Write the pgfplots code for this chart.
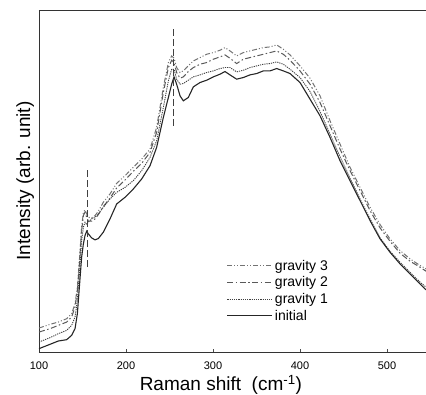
\documentclass[border=0pt]{standalone}
\usepackage{pgfplots}
\pgfplotsset{compat=1.18}
\usepackage{fontspec}
\setmainfont{Liberation Sans}
\begin{document}
\begin{tikzpicture}
\useasboundingbox (-39pt,-43pt) rectangle (387pt,352pt);
\begin{axis}[
  at={(0pt,0pt)}, anchor=south west,
  scale only axis, width=387pt, height=342pt,
  xmin=100, xmax=544.8, ymin=0, ymax=1028,
  axis x line=box, axis y line=left,
  axis line style={-, black!80, line width=0.8pt},
  xtick={100,200,300,400,500}, ytick=\empty,
  xtick pos=bottom, tick align=inside, major tick length=3pt,
  tick style={black!70},
  /pgf/number format/assume math mode=true,
  xticklabel style={font=\fontsize{11}{13}\selectfont, yshift=-6pt},
  xlabel={Raman shift\ \ (cm\textsuperscript{-1})},
  ylabel={Intensity (arb. unit)},
  xlabel style={font=\fontsize{19}{22}\selectfont, at={(axis description cs:0.47,-0.112)}, anchor=base},
  ylabel style={font=\fontsize{19}{22}\selectfont, at={(axis description cs:-0.012,0.5)}, anchor=south, inner sep=0pt},
  legend style={draw=none, fill=none, at={(0.485,0.275)}, anchor=north west,
    font=\fontsize{14}{16}\selectfont, row sep=1pt, inner sep=0pt},
  legend cell align=left,
  legend image code/.code={\draw[#1] (0pt,0pt) -- (40pt,0pt); \path (0pt,0pt) -- (45pt,0pt);},
]
% gravity 3
\addplot[black!55, line width=1pt, dash pattern=on 5pt off 2pt on 1pt off 2pt on 1pt off 2pt] coordinates {
(100.0,72) (112.6,83) (122.2,90) (131.8,100) (137.5,115) (141.4,145) (144.1,195) (146.4,275)
(149.0,375) (151.0,420) (152.9,427) (154.8,415) (156.7,405) (160.5,403) (164.4,410) (168.2,423)
(173.9,450) (181.6,475) (189.3,507) (198.9,530) (208.4,555) (218.0,580) (227.6,610) (235.2,675)
(242.9,795) (248.7,870) (252.5,890) (255.2,883) (258.2,855) (262.1,840) (265.9,845) (271.6,860)
(277.4,875) (285.1,885) (292.7,895) (300.4,900) (308.0,907) (313.8,915) (319.5,905) (327.2,890)
(334.9,900) (342.5,905) (350.2,910) (357.9,915) (365.5,917) (373.2,923) (380.8,910) (388.5,893)
(400.0,860) (411.5,823) (423.0,770) (434.5,695) (446.0,625) (457.5,555) (469.0,495) (480.5,435)
(492.0,383) (503.4,340) (514.9,305) (526.4,280) (537.9,260) (544.8,250)
};
\addlegendentry{gravity 3}
% gravity 2
\addplot[black!65, line width=1pt, dash pattern=on 6pt off 2.5pt on 1.5pt off 2.5pt] coordinates {
(100.0,60) (112.6,70) (122.2,80) (131.8,90) (137.5,105) (141.4,135) (144.1,185) (146.4,265)
(149.0,365) (151.0,410) (152.9,420) (154.8,405) (156.7,393) (160.5,393) (164.4,400) (168.2,413)
(173.9,437) (181.6,463) (189.3,493) (198.9,517) (208.4,543) (218.0,567) (227.6,600) (235.2,660)
(242.9,780) (248.7,855) (252.5,877) (255.2,870) (258.2,840) (262.1,823) (265.9,827) (271.6,843)
(277.4,855) (285.1,865) (292.7,870) (300.4,880) (308.0,887) (313.8,893) (319.5,883) (327.2,867)
(334.9,880) (342.5,885) (350.2,890) (357.9,895) (365.5,900) (373.2,905) (380.8,895) (388.5,877)
(400.0,845) (411.5,805) (423.0,750) (434.5,680) (446.0,610) (457.5,545) (469.0,485) (480.5,425)
(492.0,373) (503.4,333) (514.9,297) (526.4,273) (537.9,255) (544.8,243)
};
\addlegendentry{gravity 2}
% gravity 1
\addplot[black!75, line width=0.9pt, dash pattern=on 1.2pt off 1pt] coordinates {
(100.0,30) (112.6,43) (122.2,55) (131.8,65) (137.5,80) (141.4,105) (144.1,155) (146.4,235)
(149.0,335) (151.0,375) (152.9,390) (154.8,383) (156.7,390) (160.5,400) (164.4,405) (168.2,415)
(173.9,435) (181.6,460) (189.3,480) (198.9,495) (208.4,515) (218.0,545) (227.6,585) (235.2,635)
(242.9,735) (248.7,815) (252.5,850) (255.2,850) (258.2,820) (262.1,805) (265.9,807) (271.6,817)
(277.4,827) (285.1,833) (292.7,840) (300.4,845) (308.0,852) (313.8,855) (319.5,855) (327.2,842)
(334.9,847) (342.5,855) (350.2,860) (357.9,865) (365.5,867) (373.2,872) (380.8,865) (388.5,850)
(400.0,825) (411.5,783) (423.0,723) (434.5,655) (446.0,587) (457.5,523) (469.0,460) (480.5,400)
(492.0,343) (503.4,303) (514.9,270) (526.4,240) (537.9,210) (544.8,195)
};
\addlegendentry{gravity 1}
% initial
\addplot[black!85, line width=1.1pt] coordinates {
(100.0,10) (112.6,23) (122.2,33) (131.8,37) (137.5,50) (141.4,70) (144.1,115) (146.4,195)
(149.0,285) (151.0,325) (152.9,350) (154.8,363) (156.7,355) (160.5,343) (164.4,337) (168.2,341)
(173.9,360) (181.6,400) (189.3,445) (198.9,465) (208.4,490) (218.0,520) (227.6,560) (235.2,615)
(242.9,705) (248.7,765) (252.5,805) (255.2,827) (258.2,805) (262.1,770) (265.9,755) (271.6,765)
(277.4,797) (285.1,810) (292.7,817) (300.4,827) (308.0,835) (313.8,843) (319.5,833) (327.2,820)
(334.9,825) (342.5,833) (350.2,837) (357.9,845) (365.5,845) (373.2,852) (380.8,845) (388.5,837)
(400.0,810) (411.5,760) (423.0,710) (434.5,645) (446.0,575) (457.5,515) (469.0,455) (480.5,395)
(492.0,340) (503.4,300) (514.9,265) (526.4,235) (537.9,205) (544.8,187)
};
\addlegendentry{initial}
% marker lines
\addplot[black!75, line width=0.9pt, dash pattern=on 7pt off 3pt, forget plot] coordinates {(155.9,255) (155.9,555)};
\addplot[black!75, line width=0.9pt, dash pattern=on 7pt off 3pt, forget plot] coordinates {(254.8,680) (254.8,975)};
\end{axis}
\end{tikzpicture}
\end{document}
